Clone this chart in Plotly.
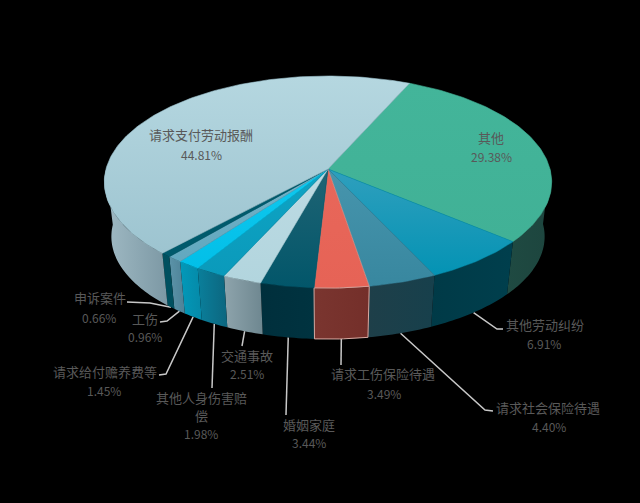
import numpy as np
import plotly.graph_objects as go

names = ["其他", "其他劳动纠纷", "请求社会保险待遇", "请求工伤保险待遇", "婚姻家庭", "交通事故",
         "其他人身伤害赔偿", "请求给付赡养费等", "工伤", "申诉案件", "请求支付劳动报酬"]
shares = [29.38, 6.91, 4.40, 3.49, 3.44, 2.51, 1.98, 1.45, 0.96, 0.66, 44.81]

# label text wrapped like the original, and where it sits
wrapped = {"其他人身伤害赔偿": ["其他人身伤害赔", "偿"]}
name_xy = [(491, 137), (545, 324), (548, 407), (383, 373), (309, 424), (247, 355),
           (201, 397), (105, 371), (145, 318), (100, 297), (201, 134)]
pct_xy = [(491, 156), (544, 343), (549, 426), (384, 393), (309, 442), (247, 373),
          (201, 433), (104, 390), (145, 336), (99, 317), (201, 154)]

# leader line bend points, in order from the pie out to the label
leaders = {
    1: [(497, 329), (503, 329)],
    2: [(485, 410), (493, 411)],
    3: [(341, 365)],
    4: [(286, 415)],
    5: [(242, 346)],
    6: [(212, 388)],
    7: [(166, 374), (159, 375)],
    8: [(167, 321), (160, 322)],
    9: [(150, 303), (127, 302)],
}

# (start, end) colours of each slice
top_colors = [("#43b59a", "#41b196"), ("#2f9fbd", "#0493b4"), ("#4795ad", "#38879f"), ("#e8675a", "#e66356"),
              ("#1f6474", "#02566a"), ("#bddbe3", "#b2d5de"), ("#0fa4c4", "#0a9abb"), ("#10c8ee", "#02bfe8"),
              ("#74b2c6", "#62a8bf"), ("#005a6c", "#005a6c"), ("#b5d7e0", "#9dc4d0")]
wall_colors = [("#1f4a42", "#1d453e"), ("#003a47", "#003f4d"), ("#1e3f49", "#17404c"), ("#7a352f", "#742f2a"),
               ("#002f3c", "#003340"), ("#8ea4ac", "#6e8790"), ("#0a7f9b", "#0c667f"), ("#0299b9", "#0589a8"),
               ("#5b93a8", "#4e8297"), ("#00505f", "#00505f"), ("#a0bac4", "#7c98a4")]
line_colors = {3: "#d8aaa3"}

cx, cy_top, cy_bot = 328, 169, 224
r_top, s_top = 222, 104.4
r_bot, s_bot = 215, 101
persp = 0.1226
start_deg = 24.1


def project(deg, cy, r, s):
    a = np.radians(deg)
    u, v = np.sin(a), np.cos(a)
    d = 1 + persp * v
    return cx + r * u / d, cy - s * v / d


def arc(a0, a1):
    n = max(2, int(abs(a1 - a0) / 1.0) + 2)
    return np.linspace(a0, a1, n)


edges = start_deg + np.concatenate([[0], np.cumsum(shares)]) / sum(shares) * 360

fig = go.Figure()

# leader lines go below the pie
for i, pts in leaders.items():
    mid = (edges[i] + edges[i + 1]) / 2
    x0, y0 = project(mid, cy_bot, r_bot, s_bot)
    fig.add_trace(go.Scatter(x=[x0] + [p[0] for p in pts], y=[y0] + [p[1] for p in pts], mode="lines",
                             line=dict(color="#c8c8c8", width=1.5), hoverinfo="skip", showlegend=False))

# walls, made of thin strips so the silhouette stays straight; the back is hidden so skip it
for i, name in enumerate(names):
    xs, ys = [], []
    angs = arc(edges[i], edges[i + 1])
    for a0, a1 in zip(angs[:-1], angs[1:]):
        if np.cos(np.radians((a0 + a1) / 2)) > 0:
            continue
        x1, y1 = project(a0, cy_top, r_top, s_top)
        x2, y2 = project(a1, cy_top, r_top, s_top)
        x3, y3 = project(a1, cy_bot, r_bot, s_bot)
        x4, y4 = project(a0, cy_bot, r_bot, s_bot)
        xs += [x1, x2, x3, x4, x1, None]
        ys += [y1, y2, y3, y4, y1, None]
    c0, c1 = wall_colors[i]
    fig.add_trace(go.Scatter(x=xs, y=ys, mode="lines", fill="toself",
                             fillgradient=dict(type="horizontal", colorscale=[[0, c0], [1, c1]]),
                             line=dict(width=0, color=c0), hoverinfo="skip", showlegend=False))

# red slice has a pale outline on its wall
i = 3
angs = arc(edges[i], edges[i + 1])
tx, ty = project(angs, cy_top, r_top, s_top)
bx, by = project(angs[::-1], cy_bot, r_bot, s_bot)
fig.add_trace(go.Scatter(x=list(tx) + list(bx) + [tx[0]], y=list(ty) + list(by) + [ty[0]], mode="lines",
                         line=dict(color=line_colors[3], width=1), hoverinfo="skip", showlegend=False))

# top faces
for i, name in enumerate(names):
    angs = arc(edges[i], edges[i + 1])
    ax, ay = project(angs, cy_top, r_top, s_top)
    c0, c1 = top_colors[i]
    fig.add_trace(go.Scatter(x=[cx] + list(ax) + [cx], y=[cy_top] + list(ay) + [cy_top], mode="lines", fill="toself",
                             fillgradient=dict(type="vertical", colorscale=[[0, c1], [1, c0]]),
                             line=dict(width=0.6, color=line_colors.get(i, c1)),
                             name=name, text=f"{name} {shares[i]:.2f}%", hoverinfo="text", showlegend=False))

for i, name in enumerate(names):
    for k, part in enumerate(wrapped.get(name, [name])):
        fig.add_annotation(x=name_xy[i][0], y=name_xy[i][1] + 18 * k, text=part, showarrow=False,
                           font=dict(size=13, color="#595959"))
    fig.add_annotation(x=pct_xy[i][0], y=pct_xy[i][1], text=f"{shares[i]:.2f}%", showarrow=False,
                       font=dict(size=12, color="#595959"))

fig.update_layout(
    width=640, height=503,
    margin=dict(l=0, r=0, t=0, b=0),
    paper_bgcolor="#000000", plot_bgcolor="#000000",
    font=dict(family="Noto Sans CJK SC, Noto Sans, sans-serif"),
    xaxis=dict(range=[0, 640], visible=False),
    yaxis=dict(range=[503, 0], visible=False),
)

fig.write_html("out.html", config={"displayModeBar": False},
               post_script="document.body.style.margin='0';document.body.style.background='#000';document.documentElement.style.overflow='hidden';")
